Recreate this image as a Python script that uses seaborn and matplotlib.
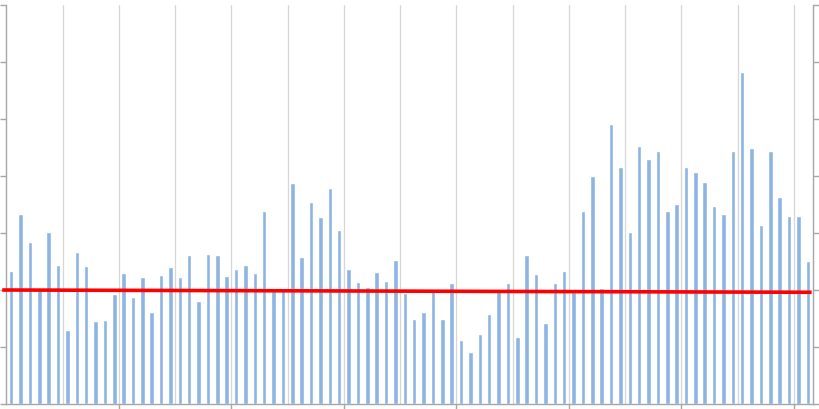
import matplotlib
matplotlib.use("Agg")
import matplotlib.pyplot as plt
import seaborn as sns
import numpy as np
import pandas as pd
from matplotlib.ticker import FixedLocator, NullFormatter

# ---- data ----
categories = list(range(1, 87))
values = [
    2.34, 3.33, 2.84, 2.04, 3.01, 2.43, 1.30, 2.67, 2.42, 1.45, 1.47, 1.93,
    2.29, 1.87, 2.23, 1.62, 2.27, 2.40, 2.23, 2.62, 1.80, 2.64, 2.62, 2.25,
    2.37, 2.43, 2.29, 3.38, 1.99, 2.02, 3.88, 2.58, 3.55, 3.28, 3.79, 3.06,
    2.37, 2.14, 2.05, 2.32, 2.16, 2.53, 1.95, 1.50, 1.62, 2.02, 1.50, 2.12,
    1.12, 0.91, 1.22, 1.58, 2.02, 2.12, 1.18, 2.62, 2.28, 1.42, 2.12, 2.33,
    1.96, 3.39, 4.00, 2.04, 4.91, 4.15, 3.01, 4.53, 4.30, 4.44, 3.38, 3.51,
    4.16, 4.07, 3.90, 3.47, 3.33, 4.44, 5.82, 4.50, 3.14, 4.44, 3.64, 3.29,
    3.30, 2.51,
]
trend_values = [2.00, 1.96]
y_ticks = [0, 1, 2, 3, 4, 5, 6, 7]

df = pd.DataFrame({"cat": categories, "val": values})

sns.set_style("white")
plt.rcParams["font.family"] = ["DejaVu Sans"]

fig = plt.figure(figsize=(8.19, 4.09), dpi=100)
ax = fig.add_axes([6 / 819, 5 / 409, 807 / 819, 399 / 409])

sns.barplot(data=df, x="cat", y="val", color="#8DB4E2", saturation=1,
            width=0.48, ax=ax, zorder=2)

n = len(categories)
ax.set_xlim(-0.55, n - 0.45)
ax.set_ylim(y_ticks[0], y_ticks[-1])

# gridlines at every 6th category boundary, tick marks at every 12th
major = [b - 0.5 for b in range(12, n, 12)]
minor = [b - 0.5 for b in range(6, n, 12)]
ax.xaxis.set_major_locator(FixedLocator(major))
ax.xaxis.set_minor_locator(FixedLocator(minor))
ax.xaxis.set_major_formatter(NullFormatter())
ax.xaxis.set_minor_formatter(NullFormatter())
ax.set_yticks(y_ticks)
ax.yaxis.set_major_formatter(NullFormatter())
ax.grid(False)
ax.grid(True, axis="x", which="both", color="#d6d6d6", linewidth=0.9, zorder=0)
ax.set_axisbelow(True)

ax.set_xlabel("")
ax.set_ylabel("")

spine_col = "#a6a6a6"
for s in ["left", "right", "bottom"]:
    ax.spines[s].set_visible(True)
    ax.spines[s].set_color(spine_col)
    ax.spines[s].set_linewidth(1.0)
ax.spines["top"].set_visible(False)

ax.yaxis.set_ticks_position("both")
ax.tick_params(axis="y", which="major", direction="out", length=4.5,
               width=1.0, color=spine_col, left=True, right=True)
ax.tick_params(axis="x", which="major", direction="out", length=4,
               width=1.0, color=spine_col, bottom=True)
ax.tick_params(axis="x", which="minor", length=0)

# red reference line, slightly overhanging the left edge
ax.plot([-0.95, n - 0.6], trend_values, color="#FF0000", linewidth=2.6,
        solid_capstyle="butt", zorder=5, clip_on=False)

fig.savefig("out.png", dpi=100)
